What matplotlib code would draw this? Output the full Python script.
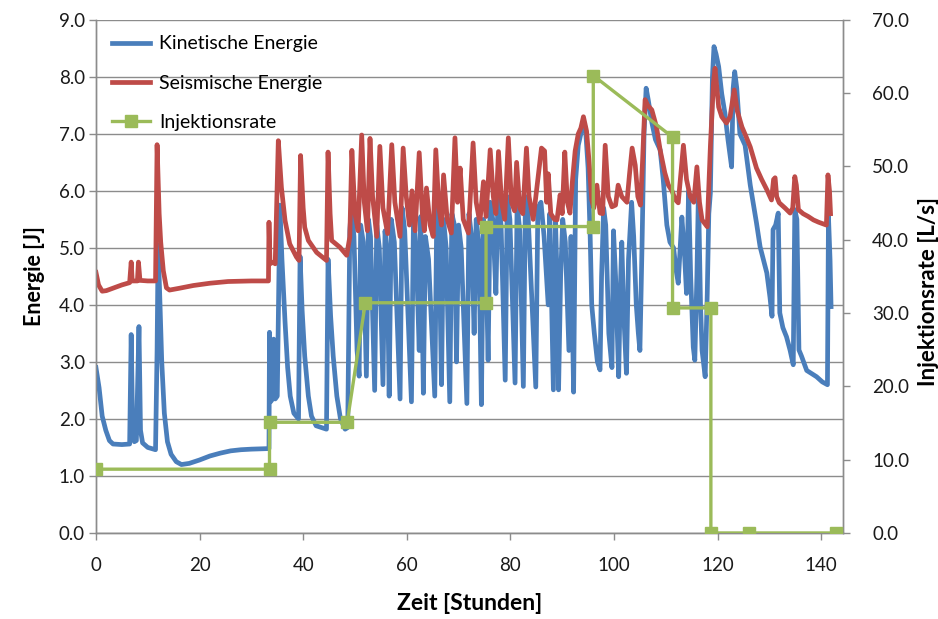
import matplotlib
matplotlib.use("Agg")
import matplotlib.pyplot as plt
from matplotlib.lines import Line2D
from matplotlib.ticker import MultipleLocator, FormatStrFormatter

plt.rcParams['font.family'] = ['Lato', 'DejaVu Sans']

# Kinetische Energie [J] over time [h]
kin_t = [0.0, 0.6, 1.2, 1.9, 2.6, 3.3, 5.0, 6.5, 6.8, 7.1, 7.4, 7.8, 8.3, 8.6, 9.0, 10.0, 11.5,
         11.8, 12.0, 12.3, 12.7, 13.2, 13.8, 14.5, 15.5, 16.5, 18.0, 20.0, 22.0, 24.0, 26.0, 28.0,
         30.0, 33.4, 33.5, 33.7, 34.1, 34.3, 34.6, 35.0, 35.5, 35.9, 36.5, 37.0, 37.5, 38.2, 39.1,
         39.4, 39.8, 40.3, 41.0, 41.6, 42.5, 44.5, 44.8, 45.3, 45.8, 46.5, 47.2, 48.1, 48.6,
         49.0, 49.3, 49.8, 50.4, 50.8, 51.1, 51.6, 52.2, 52.6, 53.0, 53.8, 54.2, 54.7, 55.4,
         55.8, 56.2, 56.6, 57.0, 57.6, 58.7, 59.1, 59.6, 60.9, 61.3, 61.8, 62.4, 62.7, 63.2,
         63.6, 64.2, 65.4, 65.8, 66.2, 66.7, 67.1, 67.6, 68.3, 68.7, 69.2, 69.6, 70.0, 70.5,
         71.6, 72.0, 72.5, 73.0, 73.4, 73.9, 74.4, 74.8, 75.2, 75.7, 76.1, 76.6, 77.2, 77.6,
         78.2, 79.0, 79.4, 79.9, 80.9, 81.3, 81.8, 82.5, 82.9, 83.4, 84.9, 85.3, 85.9, 86.5,
         87.3, 87.6, 88.3, 88.7, 89.0, 89.3, 89.7, 90.1, 90.6, 91.3, 91.7, 92.2, 92.6, 93.1,
         93.6, 94.1, 94.5, 95.0, 95.4, 95.7, 96.2, 96.8, 97.3, 97.6, 98.0, 98.4, 99.0, 99.6,
         99.9, 100.3, 100.9, 101.2, 101.5, 101.9, 102.4, 102.8, 103.4, 103.8, 104.3, 104.7,
         105.0, 105.4, 105.8, 106.2, 106.6, 107.3, 108.0, 108.9, 109.5, 110.2, 110.8, 111.5,
         112.0, 112.4, 113.1, 113.6, 114.0, 114.4, 114.8, 115.3, 115.6, 116.0, 116.3, 116.7,
         117.0, 117.6, 118.0, 118.3, 118.6, 119.0, 119.3, 119.7, 120.2, 120.8, 121.4, 122.0,
         122.7, 123.0, 123.3, 123.7, 124.3, 125.3, 126.3, 127.5, 128.2, 129.5, 130.1, 130.5,
         130.7, 131.2, 131.7, 132.0, 132.6, 133.3, 134.0, 134.6, 134.9, 135.3, 135.7, 136.2,
         137.2, 138.4, 139.1, 140.2, 141.2, 141.4, 141.7, 141.9]
kin_e = [2.90, 2.55, 2.05, 1.80, 1.62, 1.56, 1.55, 1.56, 3.48, 1.75, 1.60, 1.62, 3.62, 1.80, 1.58, 1.50, 1.46,
         3.20, 5.05, 4.20, 3.00, 2.10, 1.60, 1.38, 1.25, 1.20, 1.22, 1.28, 1.35, 1.40, 1.44, 1.46,
         1.47, 1.48, 3.52, 2.30, 2.35, 3.40, 2.35, 2.40, 5.75, 4.80, 3.70, 2.90, 2.40, 2.10, 2.00,
         4.85, 3.90, 3.10, 2.40, 2.05, 1.88, 1.82, 4.80, 3.80, 3.10, 2.40, 2.00, 1.82, 1.85,
         5.30, 5.70, 5.20, 3.20, 2.75, 5.40, 5.10, 2.75, 5.50, 5.20, 2.50, 5.40, 5.00, 2.60,
         5.30, 4.90, 2.40, 5.50, 5.10, 2.35, 5.70, 5.30, 2.30, 5.60, 5.00, 3.20, 5.55, 2.45,
         5.20, 4.80, 2.40, 5.70, 5.30, 2.60, 5.50, 5.00, 2.30, 5.60, 5.40, 3.00, 5.40, 5.00,
         2.27, 5.60, 5.20, 3.50, 5.50, 5.10, 2.25, 5.50, 5.20, 3.03, 5.80, 5.50, 4.20, 5.90,
         5.40, 2.68, 5.90, 5.50, 2.63, 5.80, 5.30, 2.57, 5.90, 5.60, 2.56, 5.70, 5.80, 5.20,
         4.00, 5.60, 2.51, 5.50, 4.50, 2.51, 4.50, 5.50, 5.10, 3.20, 5.20, 2.47, 6.20, 6.80,
         7.00, 7.20, 7.10, 6.40, 5.20, 4.00, 3.50, 3.00, 2.86, 4.50, 5.70, 5.40, 3.50, 2.90,
         5.30, 4.50, 2.74, 4.20, 5.10, 3.80, 2.80, 4.80, 5.80, 5.20, 4.00, 3.50,
         3.20, 5.00, 7.00, 7.80, 7.60, 7.20, 6.90, 6.72, 6.20, 5.40, 5.10, 5.00,
         4.60, 4.38, 5.54, 4.90, 4.20, 6.00, 4.50, 3.26, 3.03, 4.50, 6.00, 4.00,
         3.20, 2.74, 4.20, 5.60, 5.96, 8.00, 8.53, 8.40, 8.18, 7.70, 7.37, 6.90,
         6.42, 7.80, 8.09, 7.80, 7.00, 6.80, 6.10, 5.44, 5.02, 4.56, 4.14, 3.80,
         5.32, 5.40, 5.61, 3.86, 3.60, 3.44, 3.20, 2.95, 5.67, 5.50, 3.21, 3.10,
         2.85, 2.78, 2.74, 2.65, 2.60, 5.55, 4.80, 3.97]

# Seismische Energie [J] over time [h]
seis_t = [0.0, 0.5, 1.2, 2.0, 3.5, 5.0, 6.5, 6.8, 7.0, 8.0, 8.2, 8.5, 10.0, 11.5, 11.8, 12.2,
          12.5, 13.0, 13.6, 14.2, 16.0, 18.8, 22.0, 25.5, 30.0, 33.3, 33.4, 33.6, 34.2, 34.6,
          35.2, 35.8, 36.5, 37.4, 38.7, 39.2, 39.5, 40.0, 40.3, 41.0, 42.6, 44.5, 44.8, 45.2,
          45.5, 47.1, 48.4, 49.0, 49.4, 50.0, 50.6, 51.3, 51.8, 52.4, 52.9, 53.4, 54.2, 54.8,
          55.4, 56.3, 57.1, 57.7, 58.7, 59.3, 59.9, 60.5, 61.0, 61.6, 62.4, 63.0, 63.4, 63.8,
          64.5, 65.1, 65.6, 66.2, 66.7, 67.1, 67.8, 68.6, 69.3, 69.8, 70.3, 70.9, 71.9, 72.8,
          73.4, 74.1, 74.8, 75.3, 76.1, 76.7, 77.2, 77.7, 78.3, 78.9, 79.6, 80.2, 80.8, 81.2,
          81.8, 82.4, 83.1, 83.6, 84.4, 85.3, 86.0, 86.6, 87.0, 87.3, 87.8, 88.5, 89.0, 89.6,
          90.0, 90.5, 91.0, 91.5, 92.0, 92.5, 93.1, 93.6, 94.1, 94.7, 95.2, 95.7, 96.1, 96.7,
          97.3, 97.8, 98.3, 98.9, 99.6, 100.3, 100.8, 101.5, 102.5, 103.0, 103.5, 104.1,
          104.6, 105.1, 105.5, 106.0, 106.5, 107.3, 108.2, 108.9, 109.8, 110.5, 111.2, 111.8,
          112.4, 113.0, 113.4, 114.0, 114.7, 115.4, 116.0, 116.5, 117.0, 118.0, 118.6, 119.2,
          119.5, 120.2, 120.8, 121.7, 122.4, 123.2, 123.8, 124.7, 125.5, 126.3, 127.5, 128.5,
          129.5, 130.4, 130.8, 131.1, 131.4, 131.9, 133.0, 134.0, 134.5, 134.9, 135.2, 135.6,
          136.5, 137.5, 138.5, 139.5, 141.0, 141.3, 141.6, 141.8]
seis_e = [4.57, 4.35, 4.24, 4.25, 4.30, 4.35, 4.39, 4.75, 4.42, 4.42, 4.75, 4.43, 4.42, 4.42, 6.81, 5.60,
          5.10, 4.60, 4.30, 4.26, 4.29, 4.34, 4.38, 4.41, 4.42, 4.42, 5.45, 4.72, 4.75, 4.72,
          6.88, 6.06, 5.48, 5.07, 4.84, 4.78, 6.62, 5.70, 5.36, 5.13, 4.92, 4.78, 6.68, 5.60,
          5.13, 5.01, 4.87, 5.19, 6.71, 5.60, 5.30, 6.98, 5.80, 5.30, 6.92, 5.90, 5.20, 6.78,
          5.70, 5.25, 6.81, 5.80, 5.20, 6.75, 5.90, 5.40, 6.00, 5.30, 6.67, 5.60, 5.30, 6.05,
          5.40, 5.20, 6.72, 5.70, 5.40, 6.28, 5.50, 5.26, 6.93, 5.80, 6.40, 5.50, 5.26, 6.84,
          5.80, 5.44, 6.16, 5.55, 6.72, 5.90, 5.60, 6.69, 5.80, 5.50, 6.93, 5.80, 5.65, 6.50,
          5.70, 5.60, 6.75, 5.90, 5.50, 6.20, 6.75, 6.70, 5.80, 6.30, 5.60, 5.50, 5.49, 5.93,
          5.60, 6.68, 5.80, 5.61, 6.20, 6.70, 7.00, 7.10, 7.30, 7.05, 6.50, 5.84, 5.70, 6.10,
          5.61, 5.60, 6.80, 5.90, 5.72, 5.75, 6.10, 5.90, 5.80, 6.30, 6.75, 6.45,
          5.90, 5.75, 6.50, 7.60, 7.50, 7.42, 7.12, 6.72, 6.32, 6.10, 6.00, 5.85,
          5.79, 6.40, 6.80, 6.20, 5.90, 5.80, 6.42, 5.80, 5.49, 5.37, 6.77, 7.90,
          8.15, 7.47, 7.30, 7.19, 7.30, 7.77, 7.40, 7.12, 6.95, 6.77, 6.40, 6.20,
          6.02, 5.84, 6.20, 6.23, 5.90, 5.79, 5.70, 5.61, 5.70, 6.25, 6.10, 5.67,
          5.60, 5.55, 5.49, 5.45, 5.40, 6.28, 6.00, 5.60]

# Injektionsrate [L/s]
inj_t = [0.0, 33.5, 33.5, 48.5, 52.0, 75.3, 75.3, 96.0, 96.0, 111.3, 111.3, 118.7, 118.7, 126.0, 142.8]
inj_q = [8.7, 8.7, 15.1, 15.1, 31.4, 31.4, 41.8, 41.8, 62.4, 54.0, 30.7, 30.7, 0.0, 0.0, 0.0]

x_ticks = [0, 20, 40, 60, 80, 100, 120, 140]

BLUE = '#4a7ebb'
RED = '#be4b48'
GREEN = '#9bbb59'
GRID = '#8c8c8c'
AXIS = '#8c8c8c'

fig = plt.figure(figsize=(9.38, 6.19), dpi=100)
ax = fig.add_axes([0.1023, 0.139, 0.7964, 0.829])
ax2 = ax.twinx()

ax.plot(kin_t, kin_e, color=BLUE, lw=3.4, solid_joinstyle='round', zorder=3)
ax.plot(seis_t, seis_e, color=RED, lw=3.4, solid_joinstyle='round', zorder=4)
ax2.plot(inj_t, inj_q, color=GREEN, lw=2.4, marker='s', markersize=8, zorder=5)

ax.set_xlim(0, 144.2)
ax.set_ylim(0, 9)
ax2.set_ylim(0, 70)

ax.set_xticks(x_ticks)
ax.yaxis.set_major_locator(MultipleLocator(1))
ax.yaxis.set_major_formatter(FormatStrFormatter('%.1f'))
ax2.yaxis.set_major_locator(MultipleLocator(10))
ax2.yaxis.set_major_formatter(FormatStrFormatter('%.1f'))

ax.grid(axis='y', color=GRID, lw=1.0)
ax.set_axisbelow(True)

for a in (ax, ax2):
    a.spines['top'].set_visible(False)
    for s in ('left', 'right', 'bottom'):
        a.spines[s].set_color(AXIS)
        a.spines[s].set_linewidth(1.0)
    a.tick_params(colors=AXIS, labelcolor='#1a1a1a', labelsize=13.5, length=5, width=1)

ax.tick_params(axis='x', pad=12)
ax.tick_params(axis='y', pad=3)
ax2.tick_params(axis='y', pad=16)

ax.set_xlabel('Zeit [Stunden]', fontsize=16.5, fontweight='bold', labelpad=14)
ax.set_ylabel('Energie [J]', fontsize=15.5, fontweight='bold', labelpad=10)
ax2.set_ylabel('Injektionsrate [L/s]', fontsize=16, fontweight='bold', labelpad=2)
ax2.yaxis.set_label_coords(1.1, 0.47)

handles = [Line2D([], [], color=BLUE, lw=3.4),
           Line2D([], [], color=RED, lw=3.4),
           Line2D([], [], color=GREEN, lw=2.4, marker='s', markersize=8)]
labels = ['Kinetische Energie', 'Seismische Energie', 'Injektionsrate']
leg = ax2.legend(handles, labels, loc='upper left', bbox_to_anchor=(0.0, 1.0),
                 frameon=False, fontsize=14, handlelength=2.0, labelspacing=1.15,
                 handletextpad=0.45, borderaxespad=0.4)

fig.savefig('out.png', dpi=100)
